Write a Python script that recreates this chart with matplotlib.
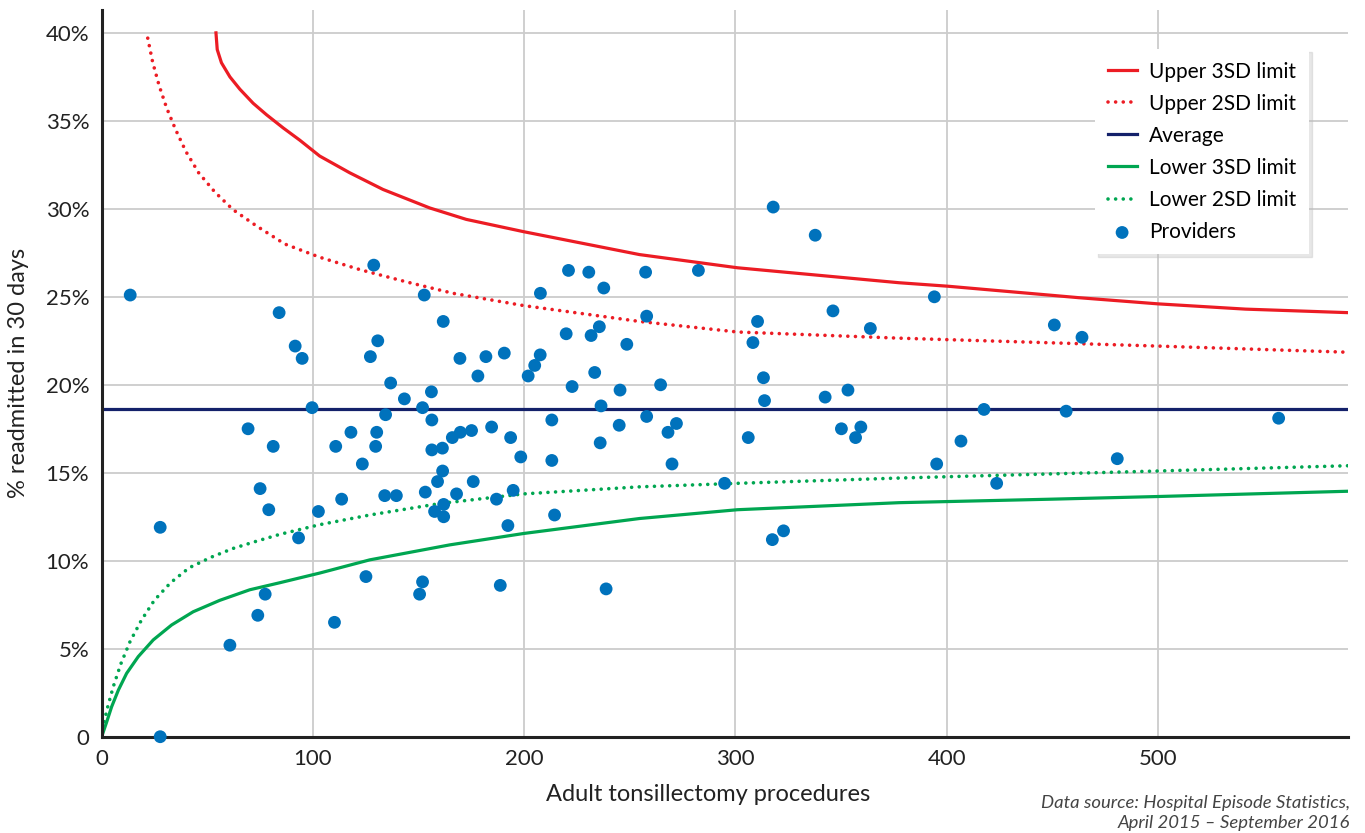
import matplotlib
matplotlib.use("Agg")
import matplotlib.pyplot as plt
from matplotlib.ticker import FuncFormatter

plt.rcParams["font.family"] = ["Lato", "DejaVu Sans"]

# values
average_pct = 18.6

provider_n = [13.5, 27.7, 27.7, 60.7, 69.3, 73.9, 75.0, 77.4, 79.1, 81.2,
              84.0, 91.6, 94.9, 93.2, 99.6, 102.6, 110.2, 110.8, 113.6, 118.0,
              123.4, 125.1, 127.2, 128.8, 130.7, 129.7, 130.2, 134.4, 134.0, 136.8,
              139.5, 143.3, 150.5, 151.9, 151.9, 152.7, 153.2, 156.1, 156.3, 156.3,
              157.6, 159.0, 161.4, 161.3, 161.7, 161.9, 161.9, 166.0, 337.8, 221.0,
              230.6, 257.5, 282.5, 237.7, 207.7, 258.0, 310.5, 346.2, 363.9, 235.6,
              231.7, 219.9, 248.6, 308.3, 169.6, 181.9, 190.6, 207.6, 205.0, 178.1,
              201.9, 233.4, 222.7, 264.6, 313.3, 245.4, 353.3, 342.5, 313.8, 236.4,
              213.1, 258.0, 245.0, 272.1, 268.1, 184.6, 175.1, 169.8, 193.6, 350.2,
              359.4, 356.9, 306.1, 236.0, 198.4, 213.1, 270.0, 175.9, 168.0, 194.8,
              186.9, 294.9, 214.4, 192.3, 317.5, 322.8, 188.7, 238.8, 317.9, 394.2,
              451.0, 464.1, 417.7, 456.6, 557.2, 406.8, 395.3, 480.8, 423.7]
provider_pct = [25.1, 11.9, 0.0, 5.2, 17.5, 6.9, 14.1, 8.1, 12.9, 16.5,
                24.1, 22.2, 21.5, 11.3, 18.7, 12.8, 6.5, 16.5, 13.5, 17.3,
                15.5, 9.1, 21.6, 26.8, 22.5, 16.5, 17.3, 18.3, 13.7, 20.1,
                13.7, 19.2, 8.1, 8.8, 18.7, 25.1, 13.9, 19.6, 18.0, 16.3,
                12.8, 14.5, 15.1, 16.4, 23.6, 13.2, 12.5, 17.0, 28.5, 26.5,
                26.4, 26.4, 26.5, 25.5, 25.2, 23.9, 23.6, 24.2, 23.2, 23.3,
                22.8, 22.9, 22.3, 22.4, 21.5, 21.6, 21.8, 21.7, 21.1, 20.5,
                20.5, 20.7, 19.9, 20.0, 20.4, 19.7, 19.7, 19.3, 19.1, 18.8,
                18.0, 18.2, 17.7, 17.8, 17.3, 17.6, 17.4, 17.3, 17.0, 17.5,
                17.6, 17.0, 17.0, 16.7, 15.9, 15.7, 15.5, 14.5, 13.8, 14.0,
                13.5, 14.4, 12.6, 12.0, 11.2, 11.7, 8.6, 8.4, 30.1, 25.0,
                23.4, 22.7, 18.6, 18.5, 18.1, 16.8, 15.5, 15.8, 14.4]

upper3_n = [54.1, 54.7, 56.7, 60.7, 65.4, 71.7, 78.0, 85.9, 93.8, 103.2,
            117.4, 133.2, 155.3, 172.6, 199.8, 254.6, 301.0, 377.5, 400.8, 462.6,
            500.0, 541.5, 590.0]
upper3_pct = [40.0, 39.05, 38.3, 37.5, 36.8, 36.0, 35.35, 34.6, 33.9, 33.0,
              32.05, 31.1, 30.05, 29.4, 28.7, 27.4, 26.65, 25.8, 25.6, 24.95,
              24.6, 24.3, 24.1]

upper2_n = [21.8, 24.1, 27.2, 30.7, 35.0, 39.9, 45.9, 53.6, 62.2, 73.0,
            86.7, 103.2, 122.1, 144.2, 166.3, 199.8, 254.6, 301.0, 377.5, 500.0,
            590.0]
upper2_pct = [39.7, 38.35, 37.0, 35.75, 34.5, 33.25, 32.05, 30.95, 29.95, 29.05,
              28.0, 27.25, 26.55, 25.85, 25.2, 24.5, 23.6, 23.0, 22.65, 22.2,
              21.85]

lower3_n = [0.0, 2.4, 4.7, 7.9, 11.8, 17.3, 24.4, 33.1, 43.3, 55.9,
            70.1, 84.3, 103.2, 126.9, 164.7, 199.8, 254.6, 301.0, 377.5, 450.0,
            500.0, 590.0]
lower3_pct = [0.0, 0.85, 1.7, 2.65, 3.6, 4.55, 5.5, 6.35, 7.1, 7.75,
              8.35, 8.75, 9.3, 10.05, 10.9, 11.55, 12.4, 12.9, 13.3, 13.5,
              13.65, 13.95]

lower2_n = [0.0, 0.5, 2.4, 5.5, 9.1, 13.4, 18.7, 24.9, 32.6, 41.4,
            51.8, 62.2, 73.0, 84.3, 103.2, 126.9, 160.0, 199.8, 254.6, 301.0,
            377.5, 500.0, 590.0]
lower2_pct = [0.0, 0.4, 1.5, 2.85, 4.15, 5.4, 6.6, 7.75, 8.75, 9.6,
              10.2, 10.7, 11.1, 11.5, 12.05, 12.6, 13.25, 13.8, 14.2, 14.4,
              14.7, 15.1, 15.4]

red = "#ec1c24"
navy = "#14216a"
green = "#00a651"
blue = "#0072bc"
dots = (0, (0.01, 2.1))

fig = plt.figure(figsize=(13.65, 8.33), dpi=100)
ax = fig.add_axes([0.0745, 0.1156, 0.913, 0.8724])

ax.plot(upper3_n, upper3_pct, color=red, lw=2.3, label="Upper 3SD limit", zorder=3)
ax.plot(upper2_n, upper2_pct, color=red, lw=2.6, linestyle=dots,
        dash_capstyle="round", label="Upper 2SD limit", zorder=3)
ax.axhline(average_pct, color=navy, lw=2.3, label="Average", zorder=3)
ax.plot(lower3_n, lower3_pct, color=green, lw=2.3, label="Lower 3SD limit", zorder=3)
ax.plot(lower2_n, lower2_pct, color=green, lw=2.6, linestyle=dots,
        dash_capstyle="round", label="Lower 2SD limit", zorder=3)
ax.scatter(provider_n, provider_pct, s=85, color=blue, edgecolors="none",
           label="Providers", zorder=4, clip_on=False)

ax.set_xlim(0, 590)
ax.set_ylim(0, 41.3)
ax.set_xticks([0, 100, 200, 300, 400, 500])
ax.set_yticks([0, 5, 10, 15, 20, 25, 30, 35, 40])
ax.yaxis.set_major_formatter(FuncFormatter(lambda v, p: "0" if v == 0 else f"{v:g}%"))
ax.tick_params(length=0, labelsize=16, colors="#222222", pad=9)
ax.grid(True, color="#cccccc", lw=1.3, zorder=0)
ax.set_axisbelow(True)
for s in ["top", "right"]:
    ax.spines[s].set_visible(False)
for s in ["left", "bottom"]:
    ax.spines[s].set_color("#222222")
    ax.spines[s].set_linewidth(2.2)
    ax.spines[s].set_zorder(3.5)

ax.set_xlabel("Adult tonsillectomy procedures", fontsize=17, color="#222222", labelpad=11)
ax.xaxis.label.set_x(0.487)
ax.set_ylabel("% readmitted in 30 days", fontsize=17, color="#222222", labelpad=12)

leg = ax.legend(loc="upper right", bbox_to_anchor=(0.9687, 0.9463), borderaxespad=0,
                fontsize=15, frameon=True, fancybox=False, handlelength=1.4,
                handletextpad=0.6, labelspacing=0.58, borderpad=0.6,
                shadow={"color": "#bbbbbb", "alpha": 0.35, "ox": 2, "oy": -2})
leg.get_frame().set_edgecolor("none")
leg.get_frame().set_facecolor("white")
leg.get_frame().set_alpha(1)
leg.set_zorder(6)

fig.text(0.989, 0.003, "Data source: Hospital Episode Statistics,\nApril 2015 \u2013 September 2016",
         ha="right", va="bottom", fontsize=13.3, style="italic", color="#444444",
         linespacing=1.3)

fig.savefig("out.png", dpi=100)
